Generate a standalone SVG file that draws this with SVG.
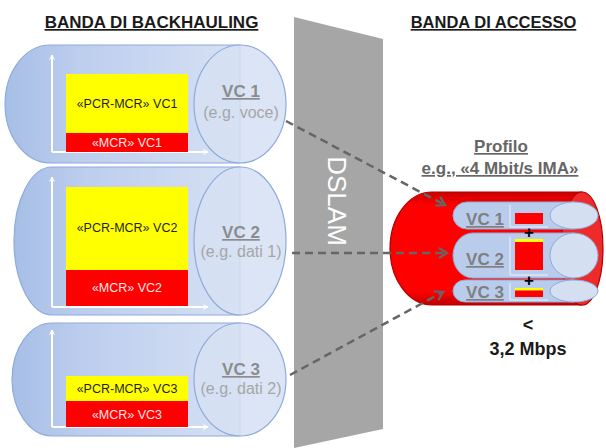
<svg xmlns="http://www.w3.org/2000/svg" width="606" height="448" viewBox="0 0 606 448">
<defs>
<linearGradient id="blueBody" x1="0" y1="0" x2="1" y2="0">
<stop offset="0" stop-color="#a6bee6"/>
<stop offset="0.3" stop-color="#bccdee"/>
<stop offset="1" stop-color="#d6e1f3"/>
</linearGradient>
<linearGradient id="redBody" x1="0" y1="0" x2="0" y2="1">
<stop offset="0" stop-color="#c80000"/>
<stop offset="0.12" stop-color="#ff0000"/>
<stop offset="0.88" stop-color="#ff0000"/>
<stop offset="1" stop-color="#c00000"/>
</linearGradient>
<marker id="axArrow" viewBox="0 0 10 10" refX="9" refY="5" markerWidth="6" markerHeight="6" orient="auto" markerUnits="userSpaceOnUse">
<polyline points="1,1 9,5 1,9" fill="none" stroke="#ffffff" stroke-width="1.6"/>
</marker>
<marker id="conArrow" viewBox="0 0 12 12" refX="10" refY="6" markerWidth="12" markerHeight="12" orient="auto" markerUnits="userSpaceOnUse">
<polyline points="2,1 10,6 2,11" fill="none" stroke="#666666" stroke-width="2.2"/>
</marker>
</defs>
<style>
.body{fill:url(#blueBody);stroke:#8eaadb;stroke-width:1.2}
.cap{fill:#d6e1f3;fill-opacity:0.85;stroke:#8eaadb;stroke-width:1.2}
.axis{stroke:#ffffff;stroke-width:2;fill:none;marker-end:url(#axArrow)}
.yel{fill:#ffff00}
.red{fill:#ff0000}
.t{font-family:"Liberation Sans",Arial,sans-serif;text-anchor:middle}
.head{font-size:17px;font-weight:bold;fill:#1a1a1a;text-decoration:underline}
.pcr{font-size:12.5px;fill:#1f1f1f}
.mcr{font-size:12.5px;fill:#ffe6e6}
.vc{font-size:17px;font-weight:bold;fill:#8c8c8c;text-decoration:underline}
.eg{font-size:16px;fill:#a6a6a6}
.prof{font-size:17px;font-weight:bold;fill:#666666;text-decoration:underline}
.vcs{font-size:17px;font-weight:bold;fill:#7f7f7f;text-decoration:underline}
.blk{font-size:18px;font-weight:bold;fill:#1a1a1a}
.plus{font-size:17px;font-weight:bold;fill:#000000}
.ibody{fill:#b9ccec;stroke:#8eaadb;stroke-width:1}
.icap{fill:#d4dff2;stroke:#8eaadb;stroke-width:1}
.iax{stroke:#ffffff;stroke-width:1;stroke-opacity:0.75;fill:none}
.con{stroke:#666666;stroke-width:2.5;stroke-dasharray:8 5;fill:none;marker-end:url(#conArrow)}
</style>

<text class="t head" x="151.5" y="28">BANDA DI BACKHAULING</text>
<text class="t head" x="493.5" y="28" style="font-size:16.5px">BANDA DI ACCESSO</text>

<g id="vc1-backhaul">
<path class="body" d="M 240 45 H 50 A 45 59 0 0 0 50 163 H 240 Z"/>
<line class="axis" x1="52" y1="152" x2="52" y2="55"/>
<line class="axis" x1="52" y1="152" x2="208" y2="152"/>
<rect class="yel" x="66" y="74" width="122" height="59"/>
<rect class="red" x="66" y="133" width="122" height="19"/>
<text class="t pcr" x="127" y="108">«PCR-MCR» VC1</text>
<text class="t mcr" x="127" y="147">«MCR» VC1</text>
<ellipse class="cap" cx="240" cy="104" rx="46" ry="59"/>
<text class="t vc" x="241" y="97">VC 1</text>
<text class="t eg" x="241" y="118">(e.g. voce)</text>
</g>

<g id="vc2-backhaul">
<path class="body" d="M 240 167 H 52 A 38 74 0 0 0 52 315 H 240 Z"/>
<line class="axis" x1="52" y1="307" x2="52" y2="177"/>
<line class="axis" x1="52" y1="307" x2="208" y2="307"/>
<rect class="yel" x="66" y="187" width="122" height="83"/>
<rect class="red" x="66" y="270" width="122" height="36"/>
<text class="t pcr" x="127" y="232">«PCR-MCR» VC2</text>
<text class="t mcr" x="127" y="292">«MCR» VC2</text>
<ellipse class="cap" cx="240" cy="241" rx="46" ry="74"/>
<text class="t vc" x="241" y="238">VC 2</text>
<text class="t eg" x="241" y="257">(e.g. dati 1)</text>
</g>

<g id="vc3-backhaul">
<path class="body" d="M 240 323 H 52 A 40 56.5 0 0 0 52 436 H 240 Z"/>
<line class="axis" x1="52" y1="427" x2="52" y2="330"/>
<line class="axis" x1="52" y1="427" x2="208" y2="427"/>
<rect class="yel" x="66" y="376" width="122" height="25"/>
<rect class="red" x="66" y="401" width="122" height="26"/>
<text class="t pcr" x="127" y="393">«PCR-MCR» VC3</text>
<text class="t mcr" x="127" y="418.5">«MCR» VC3</text>
<ellipse class="cap" cx="240" cy="379.5" rx="46" ry="56.5"/>
<text class="t vc" x="241" y="375">VC 3</text>
<text class="t eg" x="241" y="394">(e.g. dati 2)</text>
</g>

<g id="dslam">
<polygon points="294,17 383,39 383,429 294,448" fill="#a6a6a6"/>
<text class="t" transform="translate(337,201) rotate(90)" y="9" style="font-size:26px;fill:#ffffff">DSLAM</text>
</g>

<g id="profilo-label">
<text class="t prof" x="501" y="152">Profilo</text>
<text class="t prof" x="500" y="174">e.g., «4 Mbit/s IMA»</text>
</g>

<g id="access-profile">
<path d="M 582 192 H 432 A 42 56.5 0 0 0 432 305 H 582 Z" fill="url(#redBody)" stroke="#b00000" stroke-width="1.2"/>
<ellipse cx="582" cy="248.5" rx="21" ry="56.5" fill="#ee2a2a" stroke="#b00000" stroke-width="1.2"/>
<g id="vc1-access">
<path class="ibody" d="M 574 202 H 467 A 14 13.5 0 0 0 467 229 H 574 Z"/>
<line class="iax" x1="510" y1="227" x2="510" y2="205"/>
<line class="iax" x1="510" y1="227" x2="548" y2="227"/>
<rect class="red" x="515" y="213" width="28" height="11"/>
<ellipse class="icap" cx="574" cy="215.5" rx="24" ry="13.5"/>
<text class="t vcs" x="485" y="225">VC 1</text>
</g>
<g id="vc2-access">
<path class="ibody" d="M 574 233 H 473 A 20 22.5 0 0 0 473 278 H 574 Z"/>
<line class="iax" x1="510" y1="275" x2="510" y2="237"/>
<line class="iax" x1="510" y1="275" x2="548" y2="275"/>
<rect class="yel" x="515" y="239" width="28" height="3"/>
<rect class="red" x="515" y="242" width="28" height="28"/>
<ellipse class="icap" cx="574" cy="255.5" rx="24" ry="22.5"/>
<text class="t vcs" x="485" y="265">VC 2</text>
</g>
<g id="vc3-access">
<path class="ibody" d="M 574 280 H 465 A 12 11 0 0 0 465 302 H 574 Z"/>
<line class="iax" x1="510" y1="300" x2="510" y2="283"/>
<line class="iax" x1="510" y1="300" x2="548" y2="300"/>
<rect class="yel" x="515" y="288" width="28" height="2.5"/>
<rect class="red" x="515" y="290.5" width="28" height="6.5"/>
<ellipse class="icap" cx="574" cy="291" rx="24" ry="11"/>
<text class="t vcs" x="485" y="298">VC 3</text>
</g>
<text class="t plus" x="529" y="238">+</text>
<text class="t plus" x="529" y="286">+</text>
</g>

<g id="total-label">
<text class="t blk" x="528" y="331">&lt;</text>
<text class="t blk" x="528" y="355">3,2 Mbps</text>
</g>

<g id="connectors">
<line class="con" x1="286" y1="121" x2="445" y2="205"/>
<line class="con" x1="292" y1="253" x2="447" y2="253"/>
<line class="con" x1="290" y1="375" x2="443" y2="292"/>
</g>
</svg>
